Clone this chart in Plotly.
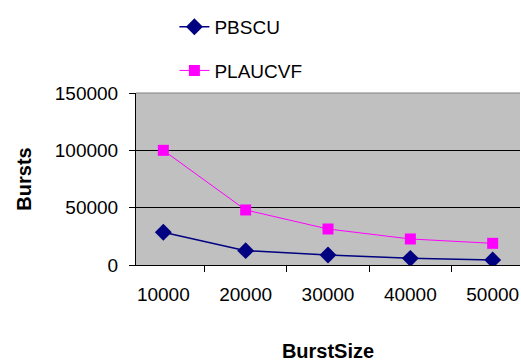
import plotly.graph_objects as go

categories = ["10000", "20000", "30000", "40000", "50000"]
pbscu = [28500, 12500, 8700, 5800, 4400]
plaucvf = [100000, 48000, 31400, 22700, 18900]
y_ticks = [0, 50000, 100000, 150000]
y_tick_text = ["0", "50000", "100000", "150000"]

FONT = "Liberation Sans, Arial, sans-serif"

fig = go.Figure()
fig.add_trace(go.Scatter(
    x=categories, y=pbscu, name="PBSCU", mode="lines+markers",
    line=dict(color="#000080", width=1.5),
    marker=dict(symbol="diamond", size=13, color="#000080"),
    legendgroup="a",
))
fig.add_trace(go.Scatter(
    x=categories, y=plaucvf, name="PLAUCVF", mode="lines+markers",
    line=dict(color="#FF00FF", width=1),
    marker=dict(symbol="square", size=11, color="#FF00FF"),
    legendgroup="b",
))

fig.add_shape(type="line", xref="paper", yref="paper", x0=0, x1=1, y0=1, y1=1,
              line=dict(color="#808080", width=1))

fig.update_layout(
    width=521, height=364,
    margin=dict(l=136, r=1, t=93, b=99),
    paper_bgcolor="white",
    plot_bgcolor="#C0C0C0",
    font=dict(family=FONT, size=19, color="black"),
    legend=dict(
        x=0.1, y=1.495, xanchor="left", yanchor="top",
        bgcolor="rgba(0,0,0,0)", tracegroupgap=16,
        font=dict(size=19),
    ),
    xaxis=dict(
        type="category",
        showgrid=False,
        ticks="outside", tickson="boundaries", ticklen=6, tickcolor="black",
        ticklabelstandoff=12,
        showline=True, linecolor="black", linewidth=1,
        title=dict(text="<b>BurstSize</b>", font=dict(size=20), standoff=40),
    ),
    yaxis=dict(
        range=[0, 150000],
        tickvals=y_ticks, ticktext=y_tick_text,
        showgrid=True, gridcolor="black", gridwidth=1,
        zeroline=False,
        ticks="outside", ticklen=6, tickcolor="black",
        ticklabelstandoff=7,
        showline=True, linecolor="black", linewidth=1,
        title=dict(text="<b>Bursts</b>", font=dict(size=20), standoff=17),
    ),
)

fig.write_html("out.html")
